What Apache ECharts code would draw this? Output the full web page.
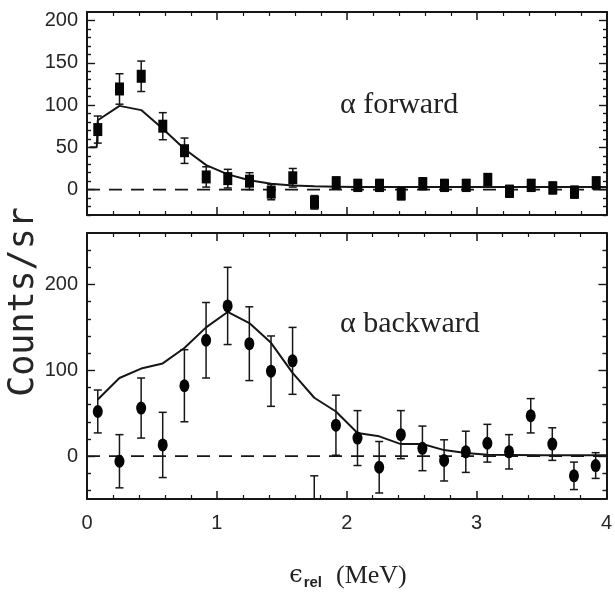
<!DOCTYPE html>
<html>
<head>
<meta charset="utf-8">
<script src="https://cdn.jsdelivr.net/npm/echarts@6/dist/echarts.min.js"></script>
<style>
  html, body { margin: 0; padding: 0; background: #fff; }
  #main { width: 615px; height: 597px; }
</style>
</head>
<body>
<div id="main"></div>
<script>
// bin centres (MeV)
const energy = [0.083, 0.25, 0.417, 0.583, 0.75, 0.917, 1.083, 1.25, 1.417, 1.583, 1.75, 1.917,
                2.083, 2.25, 2.417, 2.583, 2.75, 2.917, 3.083, 3.25, 3.417, 3.583, 3.75, 3.917];

// alpha forward
const fwdCounts = [71, 119, 134, 75, 46, 15, 13, 10, -3, 14, -15, 8, 5, 5, -5, 7, 5, 5, 12, -2, 5, 2, -3, 8];
const fwdErr    = [16, 18, 18, 16, 15, 12, 11, 10, 9, 11, 8, 7, 7, 7, 7, 7, 7, 7, 7, 7, 7, 7, 7, 7];
const fwdCurveX = [0.02, 0.075, 0.083, 0.25, 0.417, 0.583, 0.75, 0.917, 1.083, 1.25, 1.417, 1.583, 1.75, 1.917, 2.083, 2.25, 2.5, 3.0, 3.5, 4.0];
const fwdCurveY = [50, 50, 82, 99, 94, 72, 48, 29, 18, 11, 7, 5, 4, 3.5, 3, 3, 3, 3, 3, 3];

// alpha backward
const bwdCounts = [52, -6, 56, 13, 82, 135, 175, 131, 99, 111, -75, 36, 21, -13, 25, 9, -5, 5, 15, 5, 47, 14, -23, -11];
const bwdErr    = [25, 31, 35, 38, 42, 44, 45, 43, 41, 39, 52, 35, 32, 30, 28, 26, 24, 24, 22, 20, 20, 19, 16, 15];
const bwdCurveX = [0.083, 0.25, 0.417, 0.583, 0.75, 0.917, 1.083, 1.25, 1.417, 1.583, 1.75, 1.917, 2.083, 2.25, 2.417, 2.583, 2.75, 2.917, 3.083, 3.5, 4.0];
const bwdCurveY = [66, 91, 102, 108, 126, 150, 168, 155, 132, 97, 68, 52, 27, 23, 14, 14, 7, 3.5, 1.5, 1, 1];

const zeroX = [0, 4];
const zeroY = [0, 0];

// tick labels
const topYTicks = [0, 50, 100, 150, 200];
const botYTicks = [0, 100, 200];
const topYMinor = [-30, -20, -10, 10, 20, 30, 40, 60, 70, 80, 90, 110, 120, 130, 140, 160, 170, 180, 190];
const botYMinor = [-40, -20, 20, 40, 60, 80, 120, 140, 160, 180, 220, 240];

const ink = '#161616';
const zip = (xs, ys) => xs.map((x, i) => [x, ys[i]]);
const errData = (vals, errs) => energy.map((x, i) => [x, vals[i] - errs[i], vals[i] + errs[i]]);

function xAx(grid, pos, labels) {
  return {
    type: 'value', gridIndex: grid, position: pos, min: 0, max: 4, interval: 1,
    axisLine: { show: true, onZero: false, lineStyle: { color: ink, width: 2 } },
    axisTick: { show: true, inside: true, length: 8, lineStyle: { color: ink, width: 1.5 } },
    minorTick: { show: true, splitNumber: 5, length: 4, lineStyle: { color: ink, width: 1.2 } },
    axisLabel: { show: labels, margin: 14, fontFamily: 'Liberation Sans', fontSize: 20, color: '#262626' },
    splitLine: { show: false }, minorSplitLine: { show: false }
  };
}

function yAx(grid, pos, min, max, ticks, len, labels, line) {
  return {
    type: 'value', gridIndex: grid, position: pos, min: min, max: max,
    axisLine: { show: line, onZero: false, lineStyle: { color: ink, width: 2 } },
    axisTick: { show: true, inside: true, length: len, customValues: ticks, lineStyle: { color: ink, width: 1.4 } },
    axisLabel: { show: labels, customValues: ticks, margin: 9, fontFamily: 'Liberation Sans', fontSize: 20, color: '#262626' },
    splitLine: { show: false }
  };
}

function errRender(params, api) {
  const cs = params.coordSys;
  const x = api.value(0);
  const top = api.coord([x, api.value(2)]);
  const bot = api.coord([x, api.value(1)]);
  const px = top[0];
  const y1 = Math.max(top[1], cs.y);
  const y2 = Math.min(bot[1], cs.y + cs.height);
  const st = { stroke: ink, lineWidth: 1.5 };
  const kids = [{ type: 'line', shape: { x1: px, y1: y1, x2: px, y2: y2 }, style: st }];
  if (top[1] >= cs.y) kids.push({ type: 'line', shape: { x1: px - 4, y1: top[1], x2: px + 4, y2: top[1] }, style: st });
  if (bot[1] <= cs.y + cs.height) kids.push({ type: 'line', shape: { x1: px - 4, y1: bot[1], x2: px + 4, y2: bot[1] }, style: st });
  return { type: 'group', children: kids };
}

const ellipse = 'path://M0,6 A5,6 0 1,0 10,6 A5,6 0 1,0 0,6 Z';

const chart = echarts.init(document.getElementById('main'));
chart.setOption({
  animation: false,
  backgroundColor: '#fff',
  grid: [
    { left: 87, top: 12, width: 520, height: 203 },
    { left: 87, top: 233, width: 520, height: 266 }
  ],
  xAxis: [
    xAx(0, 'bottom', false), xAx(0, 'top', false),
    xAx(1, 'bottom', true), xAx(1, 'top', false)
  ],
  yAxis: [
    yAx(0, 'left', -30, 210, topYTicks, 8, true, true),
    yAx(0, 'left', -30, 210, topYMinor, 4, false, false),
    yAx(0, 'right', -30, 210, topYTicks, 8, false, true),
    yAx(0, 'right', -30, 210, topYMinor, 4, false, false),
    yAx(1, 'left', -50, 260, botYTicks, 8, true, true),
    yAx(1, 'left', -50, 260, botYMinor, 4, false, false),
    yAx(1, 'right', -50, 260, botYTicks, 8, false, true),
    yAx(1, 'right', -50, 260, botYMinor, 4, false, false)
  ],
  series: [
    { type: 'line', xAxisIndex: 0, yAxisIndex: 0, data: zip(zeroX, zeroY), symbol: 'none', z: 1,
      lineStyle: { color: ink, width: 1.6, type: [13, 9] } },
    { type: 'line', xAxisIndex: 0, yAxisIndex: 0, data: zip(fwdCurveX, fwdCurveY), symbol: 'none', z: 2,
      lineStyle: { color: ink, width: 2 } },
    { type: 'custom', xAxisIndex: 0, yAxisIndex: 0, data: errData(fwdCounts, fwdErr), renderItem: errRender, z: 3,
      encode: { x: 0, y: [1, 2] } },
    { type: 'scatter', xAxisIndex: 0, yAxisIndex: 0, data: zip(energy, fwdCounts), symbol: 'rect', symbolSize: [9, 13], z: 4,
      itemStyle: { color: '#050505', opacity: 1 } },

    { type: 'line', xAxisIndex: 2, yAxisIndex: 4, data: zip(zeroX, zeroY), symbol: 'none', z: 1,
      lineStyle: { color: ink, width: 1.6, type: [13, 9] } },
    { type: 'line', xAxisIndex: 2, yAxisIndex: 4, data: zip(bwdCurveX, bwdCurveY), symbol: 'none', z: 2,
      lineStyle: { color: ink, width: 2 } },
    { type: 'custom', xAxisIndex: 2, yAxisIndex: 4, data: errData(bwdCounts, bwdErr), renderItem: errRender, z: 3,
      encode: { x: 0, y: [1, 2] } },
    { type: 'scatter', xAxisIndex: 2, yAxisIndex: 4, data: zip(energy, bwdCounts), symbol: ellipse, symbolSize: [10, 13], z: 4,
      itemStyle: { color: '#050505', opacity: 1 } }
  ],
  graphic: [
    { type: 'text', left: 340, top: 90, style: { text: 'α forward', font: '30px "Liberation Serif"', fill: '#222' } },
    { type: 'text', left: 340, top: 309, style: { text: 'α backward', font: '30px "Liberation Serif"', fill: '#222' } },
    { type: 'text', x: 24, y: 302, rotation: Math.PI / 2,
      style: { text: 'Counts/sr', font: '35px "DejaVu Sans Mono"', fill: '#262626', align: 'center', verticalAlign: 'middle' } },
    { type: 'text', x: 348, y: 576,
      style: {
        text: '{e|ϵ}{s|rel}{g| }{m|(MeV)}', align: 'center', verticalAlign: 'middle',
        rich: {
          e: { fontFamily: 'DejaVu Serif', fontSize: 24, fill: '#222' },
          s: { fontFamily: 'Liberation Sans', fontSize: 15, fontWeight: 'bold', fill: '#222', padding: [14, 0, 0, 1] },
          g: { fontSize: 26, width: 14 },
          m: { fontFamily: 'Liberation Serif', fontSize: 26, fill: '#222' }
        }
      } }
  ]
});
</script>
</body>
</html>
